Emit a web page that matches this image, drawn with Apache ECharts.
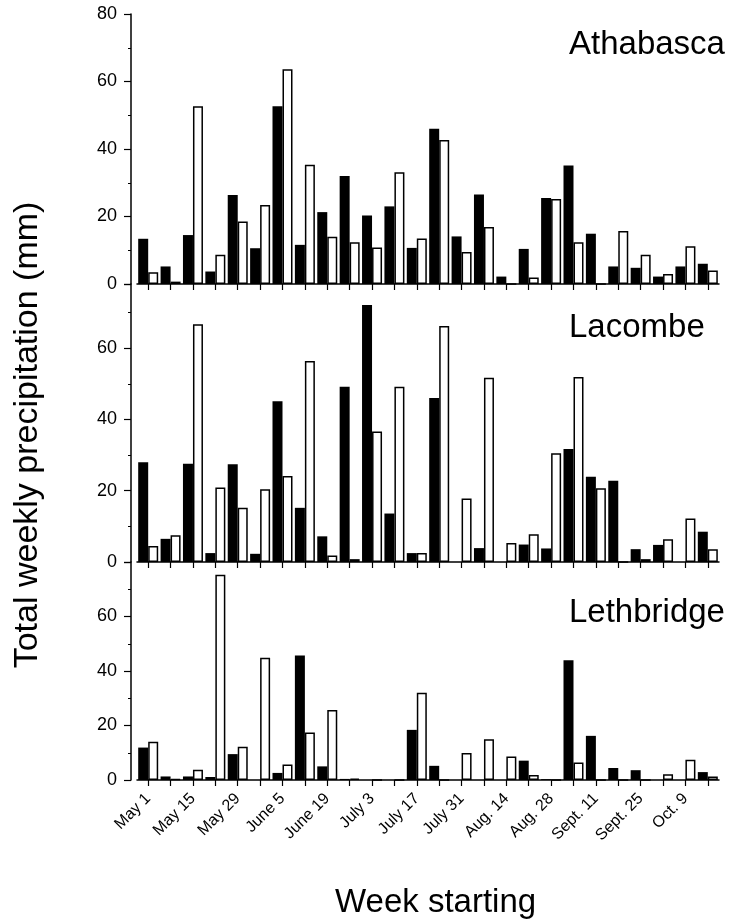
<!DOCTYPE html>
<html>

<head>
  <meta charset="utf-8">
  <title>Weekly precipitation</title>
  <script src="https://cdn.jsdelivr.net/npm/echarts@6/dist/echarts.min.js"></script>
</head>

<body style="margin:0;background:#fff">
  <div id="main" style="width:733px;height:919px"></div>
  <script type="text/javascript">
    var myChart = echarts.init(document.getElementById('main'));

    // 26 weeks, a label under every second one
    var tickLabels = ['May 1', 'May 15', 'May 29', 'June 5', 'June 19', 'July 3', 'July 17',
      'July 31', 'Aug. 14', 'Aug. 28', 'Sept. 11', 'Sept. 25', 'Oct. 9'];
    var weeks = [];
    for (var i = 0; i < 26; i++) weeks.push('w' + (i + 1));

    var stations = ['Athabasca', 'Lacombe', 'Lethbridge'];

    // black bars / white bars, mm per week
    var athBlack = [13.4, 5.2, 14.5, 3.7, 26.4, 10.6, 52.7, 11.6, 21.3, 32, 20.3, 23, 10.7, 46, 14.1, 26.5, 2.2, 10.4, 25.5, 35.1, 14.9, 5.2, 4.8, 2.2, 5.2, 6];
    var athWhite = [3.5, 0.7, 52.7, 8.7, 18.5, 23.4, 63.6, 35.3, 14, 12.4, 10.8, 33.1, 13.5, 42.7, 9.5, 16.9, 0, 1.9, 25.2, 12.4, 0, 15.7, 8.7, 3, 11.2, 4];

    var lacBlack = [28, 6.5, 27.6, 2.5, 27.4, 2.3, 45.1, 15.2, 7.2, 49.2, 72.1, 13.6, 2.5, 46, 0, 3.9, 0, 4.9, 3.8, 31.7, 23.9, 22.8, 3.6, 4.8, 0, 8.5];
    var lacWhite = [4.5, 7.5, 66.7, 20.9, 15.2, 20.4, 24.1, 56.4, 1.8, 0.8, 36.6, 49.2, 2.5, 66.2, 17.8, 51.7, 5.3, 7.8, 30.5, 51.9, 20.7, 0, 0.8, 6.4, 12.2, 3.6];

    var letBlack = [11.9, 1.3, 1.3, 1.1, 9.5, 0, 2.6, 45.7, 5, 0.4, 0, 0, 18.4, 5.2, 0, 0, 0, 7.1, 0.3, 43.9, 16.2, 4.4, 3.6, 0, 0, 2.9];
    var letWhite = [14, 0.3, 3.8, 75.3, 12.2, 44.9, 5.7, 17.4, 25.7, 0.5, 0, 0, 32, 0, 9.9, 15, 8.6, 1.8, 0, 6.4, 0, 0, 0, 2.1, 7.4, 1.3];

    var blackData = [athBlack, lacBlack, letBlack];
    var whiteData = [athWhite, lacWhite, letWhite];

    var font = '"Liberation Sans", Arial, Helvetica, sans-serif';
    var grids = [
      { top: 14, height: 270, max: 80 },
      { top: 284, height: 278, max: 78 },
      { top: 562, height: 218, max: 80 }
    ];
    var titleTops = [28, 311, 596];

    var option = {
      backgroundColor: '#fff',
      animation: false,
      title: stations.map(function (name, k) {
        return {
          text: name, left: 569, top: titleTops[k], padding: 0,
          textStyle: { fontFamily: font, fontSize: 33, fontWeight: 'normal', color: '#000' }
        };
      }).concat([{
        text: 'Week starting', left: 335, top: 886, padding: 0,
        textStyle: { fontFamily: font, fontSize: 33, fontWeight: 'normal', color: '#000' }
      }]),
      graphic: [{
        type: 'text',
        x: 28,
        y: 435,
        rotation: Math.PI / 2,
        style: {
          text: 'Total weekly precipitation (mm)',
          font: '34px ' + font,
          fill: '#000',
          textAlign: 'center',
          textVerticalAlign: 'middle'
        }
      }],
      grid: grids.map(function (g) {
        return { left: 137, right: 14, top: g.top, height: g.height };
      }),
      xAxis: grids.map(function (g, k) {
        return {
          type: 'category',
          gridIndex: k,
          data: weeks,
          boundaryGap: true,
          axisLine: { lineStyle: { color: '#000', width: 1.5 } },
          axisTick: { show: true, alignWithLabel: true, interval: 0, length: 6, lineStyle: { color: '#000', width: 1.2 } },
          axisLabel: {
            show: k === 2,
            interval: 0,
            rotate: 45,
            margin: 16,
            fontFamily: font,
            fontSize: 16,
            color: '#000',
            formatter: function (v, i) {
              return i % 2 ? '' : tickLabels[i / 2];
            }
          },
          splitLine: { show: false }
        };
      }),
      yAxis: grids.map(function (g, k) {
        return {
          type: 'value',
          gridIndex: k,
          min: 0,
          max: g.max,
          interval: 20,
          offset: 6,
          axisLine: { show: true, lineStyle: { color: '#000', width: 1.5 } },
          axisTick: { show: true, length: 7, lineStyle: { color: '#000', width: 1.2 } },
          minorTick: { show: true, splitNumber: 2, length: 3, lineStyle: { color: '#000', width: 1 } },
          splitLine: { show: false },
          axisLabel: {
            showMaxLabel: k === 0,
            margin: 14,
            fontFamily: font,
            fontSize: 18,
            color: '#000'
          }
        };
      }),
      series: []
    };

    for (var k = 0; k < 3; k++) {
      option.series.push({
        type: 'bar',
        name: stations[k] + ' black',
        xAxisIndex: k,
        yAxisIndex: k,
        data: blackData[k],
        barWidth: 10,
        barGap: '0%',
        itemStyle: { color: '#000' }
      });
      option.series.push({
        type: 'bar',
        name: stations[k] + ' white',
        xAxisIndex: k,
        yAxisIndex: k,
        data: whiteData[k],
        barWidth: 10,
        barGap: '0%',
        itemStyle: { color: '#fff', borderColor: '#000', borderWidth: 1.5 }
      });
    }

    myChart.setOption(option);
  </script>
</body>

</html>
